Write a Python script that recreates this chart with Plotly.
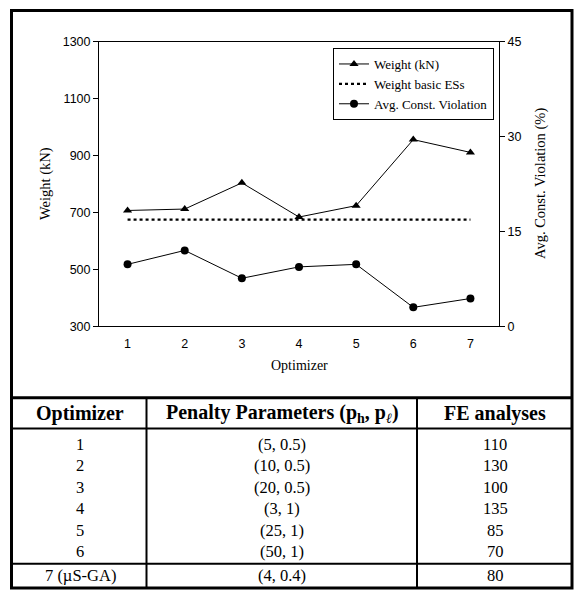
import plotly.graph_objects as go

# ---------------- data ----------------
optimizers = [1, 2, 3, 4, 5, 6, 7]
weight_kn = [707, 712, 804, 684, 724, 956, 911]
weight_basic_es = [675, 675, 675, 675, 675, 675, 675]
avg_violation = [9.8, 12.0, 7.6, 9.4, 9.8, 3.0, 4.4]

weight_ticks = [300, 500, 700, 900, 1100, 1300]
violation_ticks = [0, 15, 30, 45]

table_headers = ["Optimizer", "Penalty Parameters (p<sub>h</sub>, p<sub><i>ℓ</i></sub>)", "FE analyses"]
table_optimizer = ["1", "2", "3", "4", "5", "6", "7 (µS-GA)"]
table_penalty = ["(5, 0.5)", "(10, 0.5)", "(20, 0.5)", "(3, 1)", "(25, 1)", "(50, 1)", "(4, 0.4)"]
table_fe = [110, 130, 100, 135, 85, 70, 80]

# ---------------- layout helpers ----------------
W, H = 576, 598


def px(x):
    return x / W


def py(y):
    return 1 - y / H


SERIF = "Liberation Serif, Times New Roman, serif"
SANS = "Liberation Sans, Arial, sans-serif"

fig = go.Figure()

fig.add_trace(go.Scatter(
    x=optimizers, y=weight_kn, name="Weight (kN)", mode="lines+markers",
    line=dict(color="black", width=1),
    marker=dict(symbol="triangle-up", size=8, color="black"),
    yaxis="y"))
fig.add_trace(go.Scatter(
    x=optimizers, y=weight_basic_es, name="Weight basic ESs", mode="lines",
    line=dict(color="black", width=2.2, dash="3px,3px"),
    yaxis="y"))
fig.add_trace(go.Scatter(
    x=optimizers, y=avg_violation, name="Avg. Const. Violation", mode="lines+markers",
    line=dict(color="black", width=1),
    marker=dict(symbol="circle", size=8, color="black"),
    yaxis="y2"))

x0, x1 = 99, 499
ytop, ybot = 35.5, 327

fig.update_layout(
    width=W, height=H, autosize=False,
    margin=dict(l=0, r=0, t=0, b=0),
    paper_bgcolor="white", plot_bgcolor="white",
    showlegend=True,
    legend=dict(
        x=px(494), y=py(42), xanchor="right", yanchor="top",
        bordercolor="black", borderwidth=1, bgcolor="white",
        font=dict(family=SERIF, size=13, color="black"),
        tracegroupgap=0, itemwidth=30),
    xaxis=dict(
        domain=[px(x0), px(x1)], range=[0.5, 7.5],
        tickvals=optimizers, ticktext=[str(o) for o in optimizers],
        showgrid=False, zeroline=False, showline=True, linecolor="black", linewidth=1,
        mirror=True, ticks="", ticklabelstandoff=6,
        tickfont=dict(family=SANS, size=12.5, color="black")),
    yaxis=dict(
        domain=[py(ybot), py(ytop)], range=[300, 1300],
        tickvals=weight_ticks, showgrid=False, zeroline=False,
        showline=True, linecolor="black", linewidth=1,
        ticks="outside", ticklen=5, tickcolor="black",
        tickfont=dict(family=SANS, size=12.5, color="black")),
    yaxis2=dict(
        overlaying="y", side="right", range=[0, 45],
        tickvals=violation_ticks, showgrid=False, zeroline=False,
        showline=True, linecolor="black", linewidth=1,
        ticks="outside", ticklen=5, tickcolor="black",
        tickfont=dict(family=SANS, size=12.5, color="black")),
)

annotations = []
# axis titles
annotations.append(dict(text="Weight (kN)", x=px(45), y=py((ytop + ybot) / 2), xref="paper", yref="paper",
                        textangle=-90, showarrow=False, xanchor="center", yanchor="middle",
                        font=dict(family=SERIF, size=14.5, color="black")))
annotations.append(dict(text="Avg. Const. Violation (%)", x=px(540), y=py((ytop + ybot) / 2), xref="paper",
                        yref="paper", textangle=-90, showarrow=False, xanchor="center", yanchor="middle",
                        font=dict(family=SERIF, size=14.5, color="black")))
annotations.append(dict(text="Optimizer", x=px((x0 + x1) / 2), y=py(367), xref="paper", yref="paper",
                        showarrow=False, xanchor="center", yanchor="middle",
                        font=dict(family=SERIF, size=14, color="black")))

# table
col_centers = [80, 282, 495]
header_y = 416
row_y = [448, 470, 492, 514, 536, 558, 582]
for c, htxt in zip(col_centers, table_headers):
    annotations.append(dict(text="<b>" + htxt + "</b>", x=px(c), y=py(header_y), xref="paper", yref="paper",
                            showarrow=False, xanchor="center", yanchor="middle",
                            font=dict(family=SERIF, size=20, color="black")))
for i in range(len(table_optimizer)):
    for c, val in zip(col_centers, [table_optimizer[i], table_penalty[i], str(table_fe[i])]):
        annotations.append(dict(text=val, x=px(c), y=py(row_y[i]), xref="paper", yref="paper",
                                showarrow=False, xanchor="center", yanchor="middle",
                                font=dict(family=SERIF, size=16.5, color="black")))
fig.update_layout(annotations=annotations)

shapes = []
line = lambda w: dict(color="black", width=w)
# outer frame
shapes.append(dict(type="rect", xref="paper", yref="paper", x0=px(11.5), x1=px(572), y0=py(3.5), y1=py(595),
                   line=line(3)))
# chart/table separator
shapes.append(dict(type="line", xref="paper", yref="paper", x0=px(11.5), x1=px(572), y0=py(400), y1=py(400),
                   line=line(3)))
# header bottom
shapes.append(dict(type="line", xref="paper", yref="paper", x0=px(11.5), x1=px(572), y0=py(431.5), y1=py(431.5),
                   line=line(2)))
# row 7 separator
shapes.append(dict(type="line", xref="paper", yref="paper", x0=px(11.5), x1=px(572), y0=py(570), y1=py(570),
                   line=line(2)))
# column separators
for xc in [146.5, 417]:
    shapes.append(dict(type="line", xref="paper", yref="paper", x0=px(xc), x1=px(xc), y0=py(400), y1=py(595),
                       line=line(2)))
fig.update_layout(shapes=shapes)

fig.write_html("out.html", config={"displayModeBar": False},
               post_script="document.body.style.margin='0px';")
